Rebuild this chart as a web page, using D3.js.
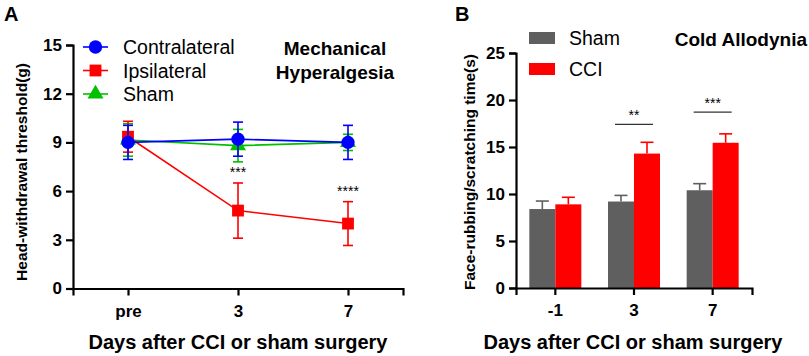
<!DOCTYPE html>
<html>
<head>
<meta charset="utf-8">
<script src="https://cdn.jsdelivr.net/npm/d3@7"></script>
<style>
  body { margin: 0; background: #fff; }
  svg { font-family: Arial, "Liberation Sans", sans-serif; }
</style>
</head>
<body>
<div id="chart"></div>
<script>
// ---- panel A data ----
var daysA = ["pre", "3", "7"];
var contraMean = [9.0, 9.2, 9.0];
var contraErr = [1.05, 1.05, 1.05];
var ipsiMean = [9.35, 4.8, 4.0];
var ipsiErr = [0.95, 1.7, 1.35];
var shamMean = [9.15, 8.8, 9.0];
var shamErr = [1.0, 1.0, 0.5];
var ticksA = [0, 3, 6, 9, 12, 15];
var starsA = ["", "***", "****"];

// ---- panel B data ----
var daysB = ["-1", "3", "7"];
var shamB = [8.4, 9.2, 10.4];
var shamBErr = [0.85, 0.65, 0.7];
var cciB = [8.9, 14.3, 15.45];
var cciBErr = [0.75, 1.2, 0.95];
var ticksB = [0, 5, 10, 15, 20, 25];
var sigB = [
    { day: "3", level: 17.4, label: "**" },
    { day: "7", level: 18.7, label: "***" }
];

var width = 809, height = 356;
var svg = d3.select("#chart").append("svg")
    .attr("width", width)
    .attr("height", height);

function styleAxis(g) {
    g.selectAll(".domain").attr("stroke", "#000").attr("stroke-width", 2.2);
    g.selectAll(".tick line").attr("stroke", "#000").attr("stroke-width", 2.2);
    g.selectAll(".tick text")
        .attr("fill", "#000")
        .style("font-size", "17px")
        .style("font-weight", "bold");
}

// ================= Panel A =================
var xA = d3.scalePoint().domain(daysA).range([73, 403]).padding(0.5);
var yA = d3.scaleLinear().domain([0, 15]).range([288.5, 45]);

var axA_x = svg.append("g")
    .attr("transform", "translate(0," + yA(0) + ")")
    .call(d3.axisBottom(xA).tickSizeOuter(0).tickSize(7).tickPadding(9));
styleAxis(axA_x);
var axA_y = svg.append("g")
    .attr("transform", "translate(" + xA.range()[0] + ",0)")
    .call(d3.axisLeft(yA).tickValues(ticksA).tickSizeOuter(0).tickSize(7).tickPadding(4));
styleAxis(axA_y);

var seriesA = [
    { name: "Sham", mean: shamMean, err: shamErr, color: "#00c000", shape: d3.symbolTriangle },
    { name: "Ipsilateral", mean: ipsiMean, err: ipsiErr, color: "#ff0000", shape: d3.symbolSquare },
    { name: "Contralateral", mean: contraMean, err: contraErr, color: "#0000ff", shape: d3.symbolCircle }
];

var line = d3.line()
    .x(function (d, i) { return xA(daysA[i]); })
    .y(function (d) { return yA(d); });

seriesA.forEach(function (s) {
    var g = svg.append("g");
    g.append("path")
        .attr("d", line(s.mean))
        .attr("fill", "none")
        .attr("stroke", s.color)
        .attr("stroke-width", 1.6);
    s.mean.forEach(function (m, i) {
        var cx = xA(daysA[i]);
        var top = yA(m + s.err[i]), bot = yA(m - s.err[i]);
        g.append("line").attr("x1", cx).attr("x2", cx).attr("y1", top).attr("y2", bot)
            .attr("stroke", s.color).attr("stroke-width", 1.6);
        [top, bot].forEach(function (yy) {
            g.append("line").attr("x1", cx - 5).attr("x2", cx + 5).attr("y1", yy).attr("y2", yy)
                .attr("stroke", s.color).attr("stroke-width", 1.6);
        });
    });
    g.selectAll("path.mark")
        .data(s.mean)
        .enter().append("path")
        .attr("class", "mark")
        .attr("transform", function (d, i) { return "translate(" + xA(daysA[i]) + "," + yA(d) + ")"; })
        .attr("d", d3.symbol().type(s.shape).size(s.shape === d3.symbolTriangle ? 110 : 140))
        .attr("fill", s.color);
});

// significance stars over ipsilateral error bars
svg.selectAll("text.starA")
    .data(starsA)
    .enter().append("text")
    .attr("class", "starA")
    .attr("x", function (d, i) { return xA(daysA[i]); })
    .attr("y", function (d, i) { return yA(ipsiMean[i] + ipsiErr[i]) - 6; })
    .attr("text-anchor", "middle")
    .style("font-size", "14px")
    .text(function (d) { return d; });

// legend A
var legA = [seriesA[2], seriesA[1], seriesA[0]];
legA.forEach(function (s, i) {
    var ly = 47 + i * 23.5;
    svg.append("line").attr("x1", 83).attr("x2", 108).attr("y1", ly).attr("y2", ly)
        .attr("stroke", s.color).attr("stroke-width", 1.6);
    svg.append("path")
        .attr("transform", "translate(95.5," + ly + ")")
        .attr("d", d3.symbol().type(s.shape).size(s.shape === d3.symbolTriangle ? 110 : 140))
        .attr("fill", s.color);
    svg.append("text").attr("x", 123).attr("y", ly + 7)
        .style("font-size", "19.5px").text(s.name);
});

svg.append("text").attr("x", 335).attr("y", 55).attr("text-anchor", "middle")
    .style("font-size", "19px").style("font-weight", "bold").text("Mechanical");
svg.append("text").attr("x", 335).attr("y", 79).attr("text-anchor", "middle")
    .style("font-size", "19px").style("font-weight", "bold").text("Hyperalgesia");

svg.append("text").attr("x", 4).attr("y", 21)
    .style("font-size", "20px").style("font-weight", "bold").text("A");

svg.append("text")
    .attr("transform", "translate(27," + 172 + ") rotate(-90)")
    .attr("text-anchor", "middle")
    .style("font-size", "15.5px").style("font-weight", "bold")
    .text("Head-withdrawal threshold(g)");

svg.append("text").attr("x", 238).attr("y", 349).attr("text-anchor", "middle")
    .style("font-size", "20px").style("font-weight", "bold")
    .text("Days after CCI or sham surgery");

// ================= Panel B =================
var xB = d3.scaleBand().domain(daysB).range([516, 752]);
var yB = d3.scaleLinear().domain([0, 25]).range([288, 53]);
var barW = 26;
var bars = [
    { name: "Sham", vals: shamB, errs: shamBErr, color: "#5f5f5f", off: -barW },
    { name: "CCI", vals: cciB, errs: cciBErr, color: "#ff0000", off: 0 }
];

bars.forEach(function (b) {
    var g = svg.append("g");
    g.selectAll("rect")
        .data(b.vals)
        .enter().append("rect")
        .attr("x", function (d, i) { return xB(daysB[i]) + xB.bandwidth() / 2 + b.off; })
        .attr("y", function (d) { return yB(d); })
        .attr("width", barW)
        .attr("height", function (d) { return yB(0) - yB(d); })
        .attr("fill", b.color);
    b.vals.forEach(function (v, i) {
        var cx = xB(daysB[i]) + xB.bandwidth() / 2 + b.off + barW / 2;
        var top = yB(v + b.errs[i]);
        g.append("line").attr("x1", cx).attr("x2", cx).attr("y1", yB(v)).attr("y2", top)
            .attr("stroke", b.color).attr("stroke-width", 1.6);
        g.append("line").attr("x1", cx - 6.5).attr("x2", cx + 6.5).attr("y1", top).attr("y2", top)
            .attr("stroke", b.color).attr("stroke-width", 1.6);
    });
});

var axB_x = svg.append("g")
    .attr("transform", "translate(0," + yB(0) + ")")
    .call(d3.axisBottom(xB).tickSizeOuter(0).tickSize(7).tickPadding(9));
styleAxis(axB_x);
var axB_y = svg.append("g")
    .attr("transform", "translate(" + xB.range()[0] + ",0)")
    .call(d3.axisLeft(yB).tickValues(ticksB).tickSizeOuter(0).tickSize(7).tickPadding(4));
styleAxis(axB_y);

sigB.forEach(function (s) {
    var cx = xB(s.day) + xB.bandwidth() / 2;
    svg.append("line").attr("x1", cx - 19).attr("x2", cx + 19)
        .attr("y1", yB(s.level)).attr("y2", yB(s.level))
        .attr("stroke", "#333").attr("stroke-width", 1.3);
    svg.append("text").attr("x", cx).attr("y", yB(s.level) - 4)
        .attr("text-anchor", "middle").style("font-size", "14px").text(s.label);
});

// legend B
bars.forEach(function (b, i) {
    var ly = 38 + i * 31;
    svg.append("rect").attr("x", 529).attr("y", ly - 6).attr("width", 26).attr("height", 12)
        .attr("fill", b.color);
    svg.append("text").attr("x", 569).attr("y", ly + 7)
        .style("font-size", "19.5px").text(b.name);
});

svg.append("text").attr("x", 807).attr("y", 46).attr("text-anchor", "end")
    .style("font-size", "19px").style("font-weight", "bold").text("Cold Allodynia");

svg.append("text").attr("x", 455).attr("y", 21)
    .style("font-size", "20px").style("font-weight", "bold").text("B");

svg.append("text")
    .attr("transform", "translate(475," + 172 + ") rotate(-90)")
    .attr("text-anchor", "middle")
    .style("font-size", "15.5px").style("font-weight", "bold")
    .text("Face-rubbing/scratching time(s)");

svg.append("text").attr("x", 633).attr("y", 349).attr("text-anchor", "middle")
    .style("font-size", "20px").style("font-weight", "bold")
    .text("Days after CCI or sham surgery");
</script>
</body>
</html>
